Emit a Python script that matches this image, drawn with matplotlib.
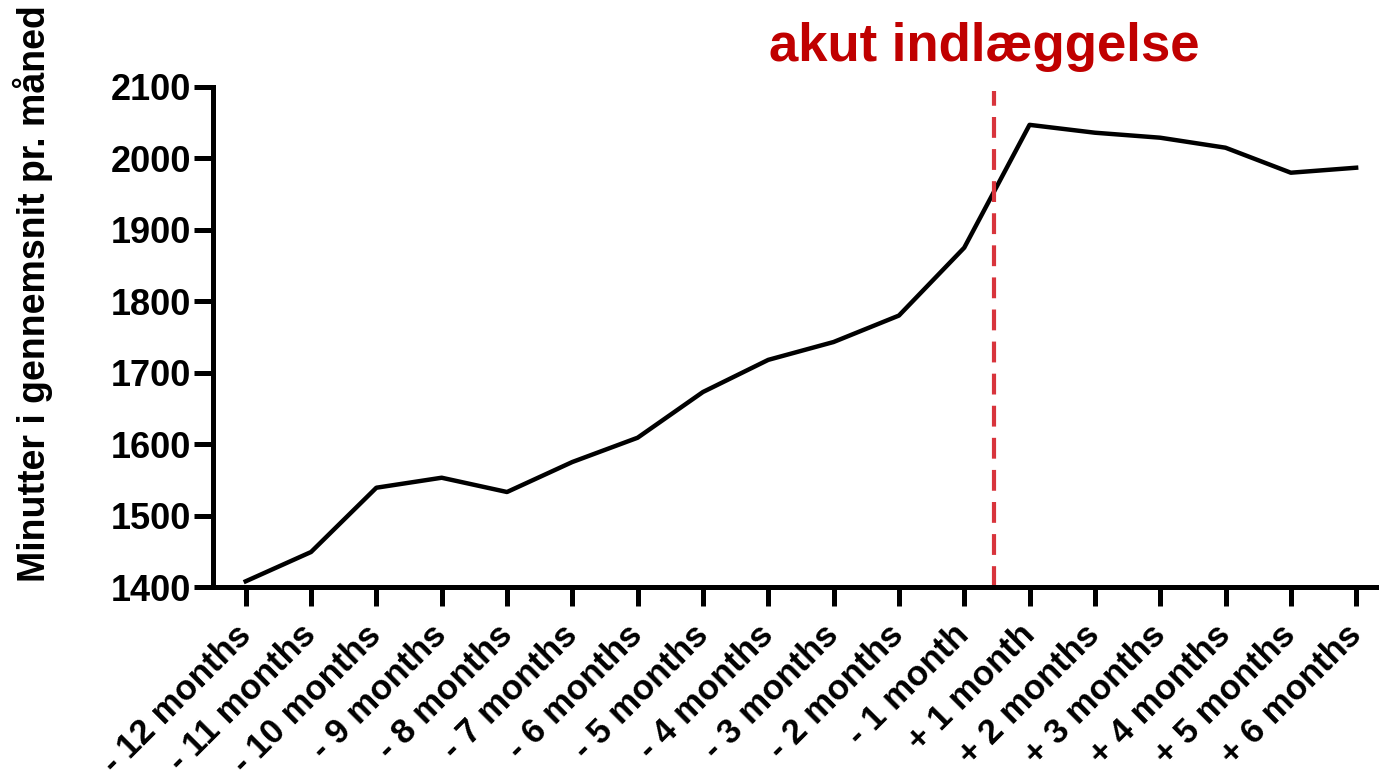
import numpy as np
import matplotlib.pyplot as plt

plt.rcParams['font.family'] = ['Liberation Sans', 'DejaVu Sans']
plt.rcParams['font.weight'] = 'bold'

# data
months = ['- 12 months', '- 11 months', '- 10 months', '- 9 months', '- 8 months',
          '- 7 months', '- 6 months', '- 5 months', '- 4 months', '- 3 months',
          '- 2 months', '- 1 month', '+ 1 month', '+ 2 months', '+ 3 months',
          '+ 4 months', '+ 5 months', '+ 6 months']
minutes = [1408, 1449, 1539, 1553, 1533, 1575, 1609, 1673, 1718, 1743,
           1780, 1875, 2047, 2036, 2029, 2015, 1980, 1987]
y_ticks = [1400, 1500, 1600, 1700, 1800, 1900, 2000, 2100]
admission_pos = 11.45

fig = plt.figure(figsize=(13.79, 7.83), dpi=100)
ax = fig.add_axes([0.1545, 0.2503, 0.8455, 0.6386])

x = np.arange(len(months))
ax.plot(x, minutes, color='black', lw=3.2, solid_joinstyle='round', clip_on=False)
ax.plot([admission_pos, admission_pos], [1400, 2095], color='#d8343c', lw=3,
        linestyle=(0, (5, 2.7)), clip_on=False)

ax.set_xlim(-0.5, 17.35)
ax.set_ylim(1400, 2100)
ax.set_yticks(y_ticks)
ax.set_xticks(x)
ax.set_xticklabels(months, rotation=45, ha='right', va='center',
                   rotation_mode='anchor', fontsize=25, fontweight='bold')
for lab in ax.get_yticklabels():
    lab.set_fontsize(26)
    lab.set_fontweight('bold')

for s in ['top', 'right']:
    ax.spines[s].set_visible(False)
for s in ['left', 'bottom']:
    ax.spines[s].set_linewidth(3.6)
ax.tick_params(axis='both', width=3.6, length=14, color='black')
ax.tick_params(axis='y', pad=2)
ax.tick_params(axis='x', pad=17)

fig.text(0.024, 0.625, 'Minutter i gennemsnit pr. måned', rotation=90,
         ha='center', va='center', fontsize=27, fontweight='bold')
fig.text(0.714, 0.94, 'akut indlæggelse', color='#c00000', ha='center',
         va='center', fontsize=38, fontweight='bold')

fig.savefig('out.png', dpi=100)
